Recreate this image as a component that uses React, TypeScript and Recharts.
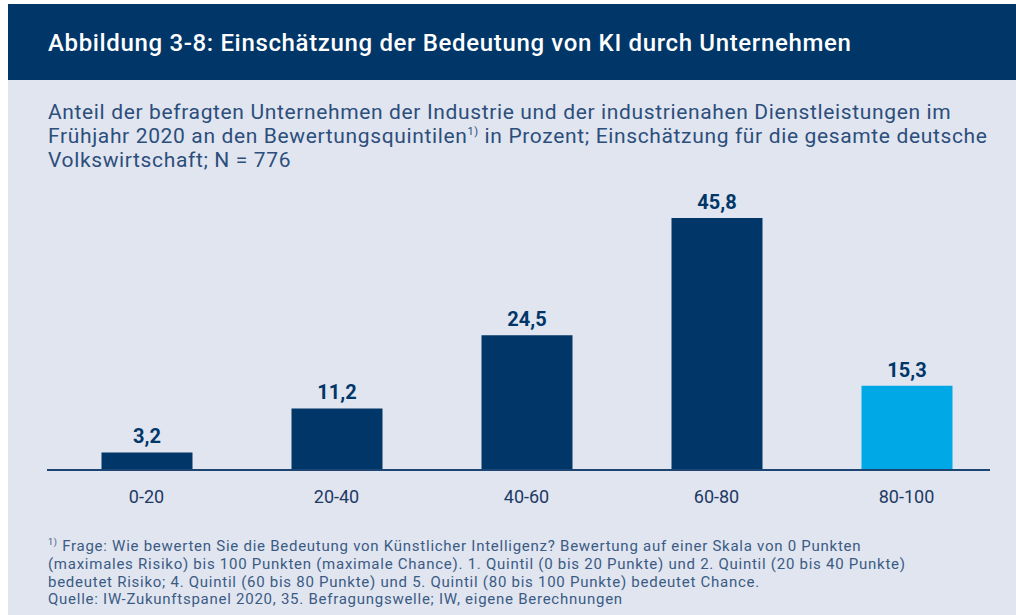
import React from 'react';
import { BarChart, Bar, XAxis, YAxis, Cell, LabelList } from 'recharts';

const categories = ['0-20', '20-40', '40-60', '60-80', '80-100'];
const shares = [3.2, 11.2, 24.5, 45.8, 15.3];
const barColors = ['#003668', '#003668', '#003668', '#003668', '#00a8e6'];

const data = categories.map((name, i) => ({ name, value: shares[i], color: barColors[i] }));

const navy = '#003668';
const textBlue = '#2c4e7b';

const subtitleLines = [
  'Anteil der befragten Unternehmen der Industrie und der industrienahen Dienstleistungen im',
  'Frühjahr 2020 an den Bewertungsquintilen',
  'Volkswirtschaft; N = 776',
];

const footLines = [
  'bedeutet Risiko; 4. Quintil (60 bis 80 Punkte) und 5. Quintil (80 bis 100 Punkte) bedeutet Chance.',
  'Quelle: IW-Zukunftspanel 2020, 35. Befragungswelle; IW, eigene Berechnungen',
];

export default function App() {
  const font = 'Roboto, "Noto Sans", sans-serif';
  const supStyle = (size: number): React.CSSProperties => ({ fontSize: size, verticalAlign: 'super', lineHeight: 0 });
  return (
    <div style={{ position: 'absolute', left: 0, top: 0, width: 1016, height: 615, background: '#ffffff', fontFamily: font, overflow: 'hidden' }}>
      {/* background panel */}
      <div style={{ position: 'absolute', left: 8, top: 4, right: 0, bottom: 0, background: '#e0e5f0' }} />
      {/* header */}
      <div style={{ position: 'absolute', left: 8, top: 4, right: 0, height: 76, background: navy }} />
      <div style={{ position: 'absolute', left: 48, top: 29, color: '#ffffff', fontSize: 24, fontWeight: 500, letterSpacing: 0.65, whiteSpace: 'nowrap' }}>
        Abbildung 3-8: Einschätzung der Bedeutung von KI durch Unternehmen
      </div>

      {/* subtitle */}
      <div style={{ position: 'absolute', left: 48, top: 100, color: textBlue, fontSize: 21, lineHeight: '24px', fontWeight: 400, letterSpacing: 0.64, whiteSpace: 'nowrap' }}>
        <div>{subtitleLines[0]}</div>
        <div>
          {subtitleLines[1]}
          <span style={supStyle(11)}>1)</span>
          {' in Prozent; Einschätzung für die gesamte deutsche'}
        </div>
        <div>{subtitleLines[2]}</div>
      </div>

      {/* chart */}
      <div style={{ position: 'absolute', left: 0, top: 0 }}>
        <BarChart width={1016} height={615} data={data} margin={{ top: 195, right: 14.5, bottom: 105, left: 51.5 }}>
          <YAxis hide domain={[0, 50]} />
          <XAxis
            dataKey="name"
            height={40}
            axisLine={false}
            tickLine={false}
            tickSize={10}
            tickMargin={10}
            tick={{ fill: '#1e3a64', fontSize: 18, fontFamily: font }}
          />
          <Bar dataKey="value" barSize={91} isAnimationActive={false}>
            {data.map((d, i) => (
              <Cell key={`c-${i}`} fill={d.color} />
            ))}
            <LabelList
              dataKey="value"
              position="top"
              offset={9}
              formatter={(v: number) => String(v).replace('.', ',')}
              style={{ fill: navy, fontSize: 20, fontWeight: 700, fontFamily: font }}
            />
          </Bar>
        </BarChart>
      </div>
      {/* axis baseline */}
      <div style={{ position: 'absolute', left: 47, top: 469, width: 943, height: 2, background: '#1d4573' }} />

      {/* footnote */}
      <div style={{ position: 'absolute', left: 48, top: 538, color: '#3b5b84', fontSize: 15, lineHeight: '17.8px', fontWeight: 400, letterSpacing: 0.74, whiteSpace: 'nowrap' }}>
        <div>
          <span style={supStyle(9)}>1)</span>
          {' Frage: Wie bewerten Sie die Bedeutung von Künstlicher Intelligenz? Bewertung auf einer Skala von 0 Punkten'}
        </div>
        <div>(maximales Risiko) bis 100 Punkten (maximale Chance). 1. Quintil (0 bis 20 Punkte) und 2. Quintil (20 bis 40 Punkte)</div>
        <div>{footLines[0]}</div>
        <div>{footLines[1]}</div>
      </div>
    </div>
  );
}
